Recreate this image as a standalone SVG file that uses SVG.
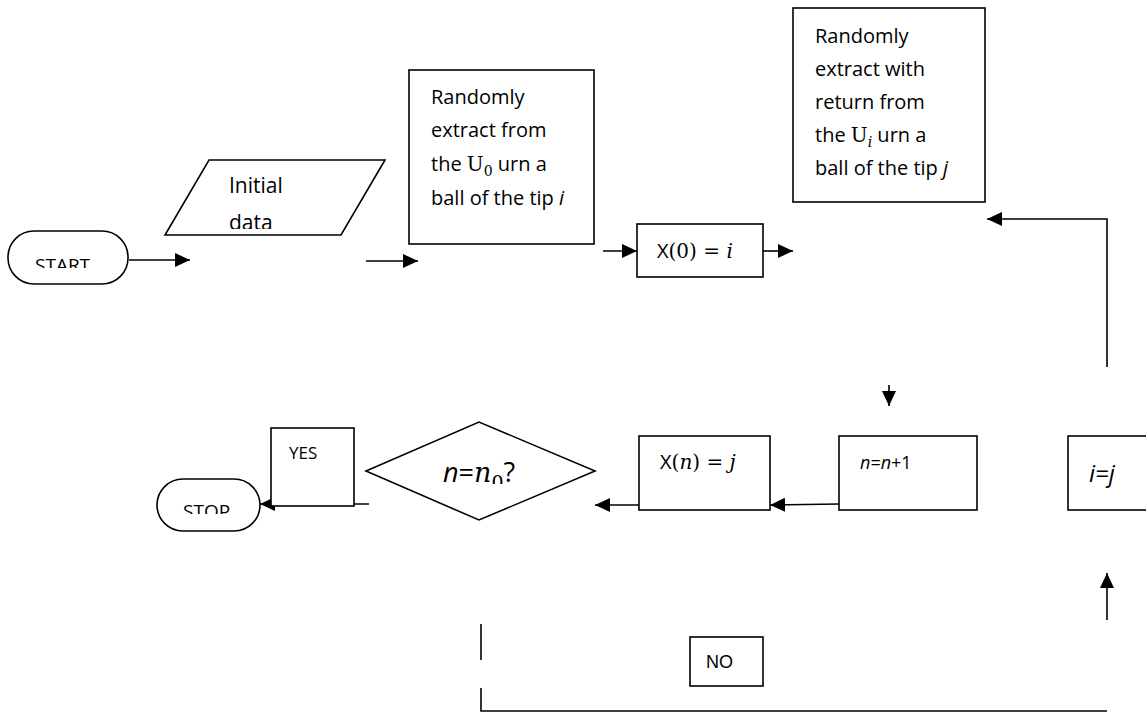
<svg xmlns="http://www.w3.org/2000/svg" width="1146" height="713" viewBox="0 0 1146 713">
<style>
.shape{fill:#fff;stroke:#000;stroke-width:1.6}
.t{font-family:"Open Sans","Liberation Sans",sans-serif;font-size:20px;fill:#000}
.s{font-family:"Open Sans","Liberation Sans",sans-serif;font-size:17px;fill:#000}
.m{font-family:"DejaVu Serif","Liberation Serif",serif;fill:#000}
.c{fill:none;stroke:#000;stroke-width:1.6}
</style>
<defs>
<marker id="ah" markerUnits="userSpaceOnUse" markerWidth="16" markerHeight="14" refX="15" refY="7" orient="auto">
<path d="M0,0 L15,7 L0,14 z" fill="#000"/>
</marker>
<clipPath id="clipStart"><rect x="0" y="225" width="140" height="43"/></clipPath>
<clipPath id="clipData"><rect x="160" y="150" width="240" height="79"/></clipPath>
<clipPath id="clipStop"><rect x="150" y="470" width="120" height="44"/></clipPath>
<clipPath id="clipQ"><rect x="360" y="420" width="240" height="64"/></clipPath>
</defs>

<g id="connectors">
<line class="c" x1="129" y1="260" x2="190" y2="260" marker-end="url(#ah)"/>
<line class="c" x1="366" y1="261" x2="418" y2="261" marker-end="url(#ah)"/>
<line class="c" x1="603" y1="251" x2="637" y2="251" marker-end="url(#ah)"/>
<line class="c" x1="763" y1="251" x2="793" y2="251" marker-end="url(#ah)"/>
<polyline class="c" points="1107,367 1107,219 987,219" marker-end="url(#ah)"/>
<line class="c" x1="889" y1="385" x2="889" y2="406" marker-end="url(#ah)"/>
<line class="c" x1="839" y1="504" x2="770" y2="505" marker-end="url(#ah)"/>
<line class="c" x1="639" y1="505" x2="595" y2="505" marker-end="url(#ah)"/>
<line class="c" x1="369" y1="504" x2="260" y2="504" marker-end="url(#ah)"/>
<line class="c" x1="1107" y1="620" x2="1107" y2="573" marker-end="url(#ah)"/>
<line class="c" x1="481" y1="624" x2="481" y2="660"/>
<polyline class="c" points="481,688 481,711 1107,711"/>
</g>

<g id="start">
<rect class="shape" x="8" y="231" width="120" height="53" rx="26"/>
<text class="s" x="35" y="272" style="font-size:19px" clip-path="url(#clipStart)">START</text>
</g>

<g id="initial-data">
<polygon class="shape" points="209,160 385,160 341,235 165,235"/>
<g clip-path="url(#clipData)">
<text class="t" x="229" y="193" style="font-size:21px">Initial</text>
<text class="t" x="229" y="230" style="font-size:21px">data</text>
</g>
</g>

<g id="extract-u0">
<rect class="shape" x="409" y="70" width="185" height="174"/>
<text class="t" x="431" y="104">Randomly</text>
<text class="t" x="431" y="137">extract from</text>
<text class="t" x="431" y="171">the <tspan class="m">U</tspan><tspan class="m" font-size="14" dy="5">0</tspan><tspan dy="-5"> urn a</tspan></text>
<text class="t" x="431" y="205">ball of the tip <tspan font-style="italic">i</tspan></text>
</g>

<g id="x0">
<rect class="shape" x="637" y="224" width="126" height="53"/>
<text class="t" x="657" y="258">X<tspan class="m">(0) = <tspan font-style="italic">i</tspan></tspan></text>
</g>

<g id="extract-ui">
<rect class="shape" x="793" y="8" width="192" height="194"/>
<text class="t" x="815" y="43">Randomly</text>
<text class="t" x="815" y="76">extract with</text>
<text class="t" x="815" y="109">return from</text>
<text class="t" x="815" y="142">the <tspan class="m">U</tspan><tspan class="m" font-style="italic" font-size="14" dy="5">i</tspan><tspan dy="-5"> urn a</tspan></text>
<text class="t" x="815" y="175">ball of the tip <tspan font-style="italic">j</tspan></text>
</g>

<g id="i-eq-j">
<rect class="shape" x="1068" y="436" width="90" height="74"/>
<text class="t" x="1089" y="482" font-style="italic" style="font-size:24px">i=j</text>
</g>

<g id="n-inc">
<rect class="shape" x="839" y="436" width="138" height="74"/>
<text class="s" x="860" y="469" style="font-size:18px"><tspan font-style="italic">n</tspan>=<tspan font-style="italic">n</tspan>+1</text>
</g>

<g id="xn">
<rect class="shape" x="639" y="436" width="131" height="74"/>
<text class="t" x="660" y="469">X<tspan class="m">(<tspan font-style="italic">n</tspan>) = <tspan font-style="italic">j</tspan></tspan></text>
</g>

<g id="decision">
<polygon class="shape" points="366,471 479,422 595,471 479,520"/>
<text class="t" x="443" y="482" style="font-size:27px" clip-path="url(#clipQ)"><tspan font-style="italic">n</tspan>=<tspan class="m" font-style="italic">n</tspan><tspan class="m" font-size="19" dy="7">0</tspan><tspan dy="-7">?</tspan></text>
</g>

<g id="yes">
<rect class="shape" x="271" y="428" width="83" height="78"/>
<text class="s" x="289" y="459">YES</text>
</g>

<g id="stop">
<rect class="shape" x="157" y="479" width="103" height="52" rx="26"/>
<text class="s" x="183" y="518" style="font-size:19px" clip-path="url(#clipStop)">STOP</text>
</g>

<g id="no">
<rect class="shape" x="690" y="637" width="73" height="49"/>
<text x="706" y="668" font-family="Liberation Sans, Arial, sans-serif" font-size="18">NO</text>
</g>
</svg>
